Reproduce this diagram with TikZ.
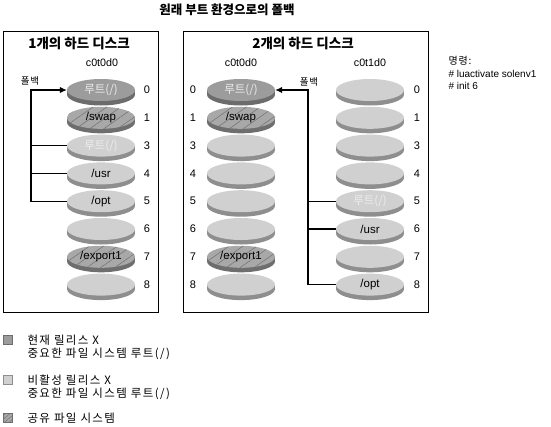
\documentclass[tikz,border=0pt]{standalone}
\usepackage{fontspec}
\setmainfont{Liberation Sans}
\newfontfamily\kr{Noto Sans CJK KR}
\newfontfamily\krw{Noto Sans CJK KR}[LetterSpace=8]
\newfontfamily\krww{Noto Sans CJK KR}[LetterSpace=12]
\usetikzlibrary{shapes.geometric,arrows.meta,patterns.meta}
\definecolor{darktop}{HTML}{9C9C9C}
\definecolor{darkrim}{HTML}{6C6C6C}
\definecolor{lighttop}{HTML}{D0D0D0}
\definecolor{lightrim}{HTML}{8E8E8E}
\definecolor{hatchtop}{HTML}{A8A8A8}
\definecolor{hatchrim}{HTML}{6E6E6E}
\definecolor{hatchline}{HTML}{707070}
\tikzset{
  frame/.style={draw, line width=0.9pt},
  conn/.style={line width=1.2pt},
  arr/.style={conn, -{Latex[length=7pt,width=6.5pt]}},
  disktop/.style={ellipse, minimum width=68pt, minimum height=22pt, inner sep=0pt,
    font=\fontsize{11.5}{13}\selectfont},
  dark/.style={fill=darktop},
  light/.style={fill=lighttop},
  hatch/.style={preaction={fill=hatchtop}, pattern={Lines[angle=35,distance=8pt,line width=0.5pt]}, pattern color=hatchline},
  hatchsmall/.style={preaction={fill=hatchtop}, pattern={Lines[angle=40,distance=3pt,line width=0.5pt]}, pattern color=hatchline},
  num/.style={font=\fontsize{11}{13}\selectfont},
  hdr/.style={font=\fontsize{10.7}{12}\selectfont},
  ttl/.style={font=\kr\bfseries\fontsize{13.5}{15}\selectfont},
  mainttl/.style={font=\kr\bfseries\fontsize{12.5}{15}\selectfont},
  krlbl/.style={font=\krw\fontsize{9.5}{11}\selectfont},
  leg/.style={anchor=west, font=\krww\fontsize{11.5}{12}\selectfont},
  cmd/.style={anchor=west, font=\fontsize{10}{12}\selectfont},
}
\newcommand{\mydisk}[5]{%
  \fill[#4rim] (#2,#3+4.5) ellipse (34 and 11);
  \fill[#4rim] (#2-34,#3) rectangle (#2+34,#3+4.5);
  \node[disktop, #4] (#1) at (#2,#3) {#5};
}
\newcommand{\rootlbl}{{\color{white!93!black}\kr\fontsize{11.5}{13}\selectfont 루트(/)}}
\begin{document}
\begin{tikzpicture}[x=1pt,y=-1pt]
\useasboundingbox (0,0) rectangle (551,426);
% title
\node[mainttl] (title) at (227,10) {원래 부트 환경으로의 폴백};
% boxes
\draw[frame] (3,31) rectangle (158,312);
\draw[frame] (183,31) rectangle (428,312);
\node[ttl] (t1) at (79,43) {1개의 하드 디스크};
\node[ttl] (t2) at (303,43) {2개의 하드 디스크};
\node[hdr] (h1) at (102,63) {c0t0d0};
\node[hdr] (h2) at (241,63) {c0t0d0};
\node[hdr] (h3) at (370,63) {c0t1d0};
% left box disks (x=101)
\mydisk{a0}{101}{90}{dark}{\rootlbl}
\mydisk{a1}{101}{117.8}{hatch}{/swap}
\mydisk{a3}{101}{145.6}{light}{\rootlbl}
\mydisk{a4}{101}{173.4}{light}{/usr}
\mydisk{a5}{101}{201.2}{light}{/opt}
\mydisk{a6}{101}{229}{light}{}
\mydisk{a7}{101}{256.8}{hatch}{/export1}
\mydisk{a8}{101}{284.6}{light}{}
% right box left column (x=241)
\mydisk{b0}{241}{90}{dark}{\rootlbl}
\mydisk{b1}{241}{117.8}{hatch}{/swap}
\mydisk{b3}{241}{145.6}{light}{}
\mydisk{b4}{241}{173.4}{light}{}
\mydisk{b5}{241}{201.2}{light}{}
\mydisk{b6}{241}{229}{light}{}
\mydisk{b7}{241}{256.8}{hatch}{/export1}
\mydisk{b8}{241}{284.6}{light}{}
% right box right column (x=370)
\mydisk{c0}{370}{90}{light}{}
\mydisk{c1}{370}{117.8}{light}{}
\mydisk{c3}{370}{145.6}{light}{}
\mydisk{c4}{370}{173.4}{light}{}
\mydisk{c5}{370}{201.2}{light}{\rootlbl}
\mydisk{c6}{370}{229}{light}{/usr}
\mydisk{c7}{370}{256.8}{light}{}
\mydisk{c8}{370}{284.6}{light}{/opt}
% slice numbers
\foreach \n/\y in {0/90,1/117.8,3/145.6,4/173.4,5/201.2,6/229,7/256.8,8/284.6}{
  \node[num] (na\n) at (147,\y) {\n};
  \node[num] (nb\n) at (193,\y) {\n};
  \node[num] (nc\n) at (417,\y) {\n};
}
% left connector
\coordinate (lbus) at (31,201.2);
\draw[arr] (a5.west) -- (lbus) |- (a0.west);
\draw[conn] (a3.west -| lbus) -- (a3.west);
\draw[conn] (a4.west -| lbus) -- (a4.west);
\node[krlbl] (fb1) at (30,81) {폴백};
% right connector
\coordinate (rbus) at (308,284.6);
\draw[arr] (c8.west) -- (rbus) |- (b0.east);
\draw[conn] (c5.west -| rbus) -- (c5.west);
\draw[conn] (c6.west -| rbus) -- (c6.west);
\node[krlbl] (fb2) at (309,82) {폴백};
% commands
\node[cmd] (m1) at (445,61) {\krw 명령:};
\node[cmd] (m2) at (445,73.5) {\# luactivate solenv1};
\node[cmd] (m3) at (445,86) {\# init 6};
% legend
\draw[fill=darktop, draw=darkrim, line width=0.6pt] (3.5,335.5) rectangle (12.5,344.5);
\node[leg] (l1a) at (24,340.5) {현재 릴리스 X};
\node[leg] (l1b) at (24,354) {중요한 파일 시스템 루트(/)};
\draw[fill=lighttop, draw=lightrim, line width=0.6pt] (3.5,375.5) rectangle (12.5,384.5);
\node[leg] (l2a) at (24,380.5) {비활성 릴리스 X};
\node[leg] (l2b) at (24,394) {중요한 파일 시스템 루트(/)};
\draw[hatchsmall, draw=hatchrim, line width=0.6pt] (3.5,413.5) rectangle (12.5,422.5);
\node[leg] (l3) at (24,418) {공유 파일 시스템};
\end{tikzpicture}
\end{document}
